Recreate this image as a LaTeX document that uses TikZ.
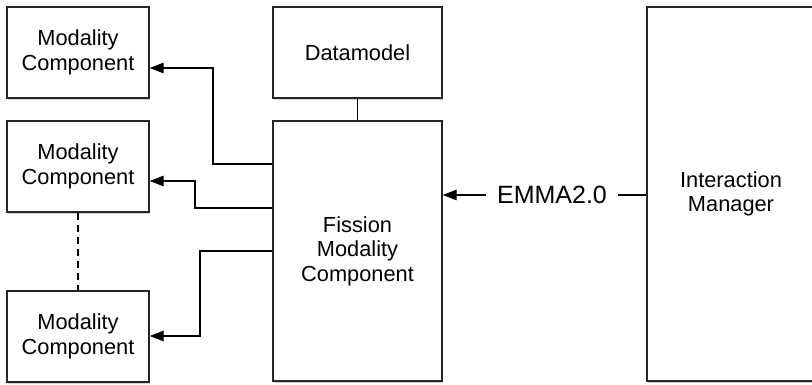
\documentclass[tikz,border=0pt]{standalone}
\usepackage{fontspec}
\setmainfont{Liberation Sans}
\usetikzlibrary{arrows.meta,shadows}
\begin{document}
\begin{tikzpicture}[x=1pt,y=-1pt,
  box/.style={draw=black!85,line width=1.4pt,fill=white,rectangle,align=center,
    inner sep=0pt,
    drop shadow={shadow xshift=0.8pt,shadow yshift=-1.6pt,fill=black!30,opacity=0.6},
    font=\fontsize{21.8}{24.5}\selectfont},
  conn/.style={draw=black,line width=1.2pt},
  arr/.style={conn,-{Triangle[length=14pt,width=10.5pt]}}]
\useasboundingbox (0,0) rectangle (812,385);
\node[box,minimum width=142pt,minimum height=91pt] (mc1) at (78,52.5) {Modality\\Component};
\node[box,minimum width=142pt,minimum height=91pt] (mc2) at (78,166.5) {Modality\\Component};
\node[box,minimum width=142pt,minimum height=91pt] (mc3) at (78,336.5) {Modality\\Component};
\node[box,minimum width=169pt,minimum height=91pt] (dm) at (357.5,52.5) {Datamodel};
\node[box,minimum width=169pt,minimum height=260pt] (fis) at (357.5,251) {Fission\\Modality\\Component};
\node[box,minimum width=168pt,minimum height=374pt] (im) at (731,194) {Interaction\\Manager};
\node[font=\fontsize{25}{28}\selectfont,inner sep=11pt] (emma) at (552,195) {EMMA2.0};
% connectors
\draw[conn] (dm.south) -- (fis.north);
\draw[conn,dash pattern=on 7pt off 5pt] (mc2.south) -- (mc3.north);
\draw[arr] (fis.west |- 0,164) -- (213,164) -- (213,68) -- (mc1.east |- 0,68);
\draw[arr] (fis.west |- 0,208) -- (195,208) -- (195,181) -- (mc2.east |- 0,181);
\draw[arr] (fis.west |- 0,251) -- (200,251) -- (200,336) -- (mc3.east |- 0,336);
\draw[conn] (im.west |- emma) -- (emma.east);
\draw[arr] (emma.west) -- (fis.east |- emma);
\end{tikzpicture}
\end{document}
